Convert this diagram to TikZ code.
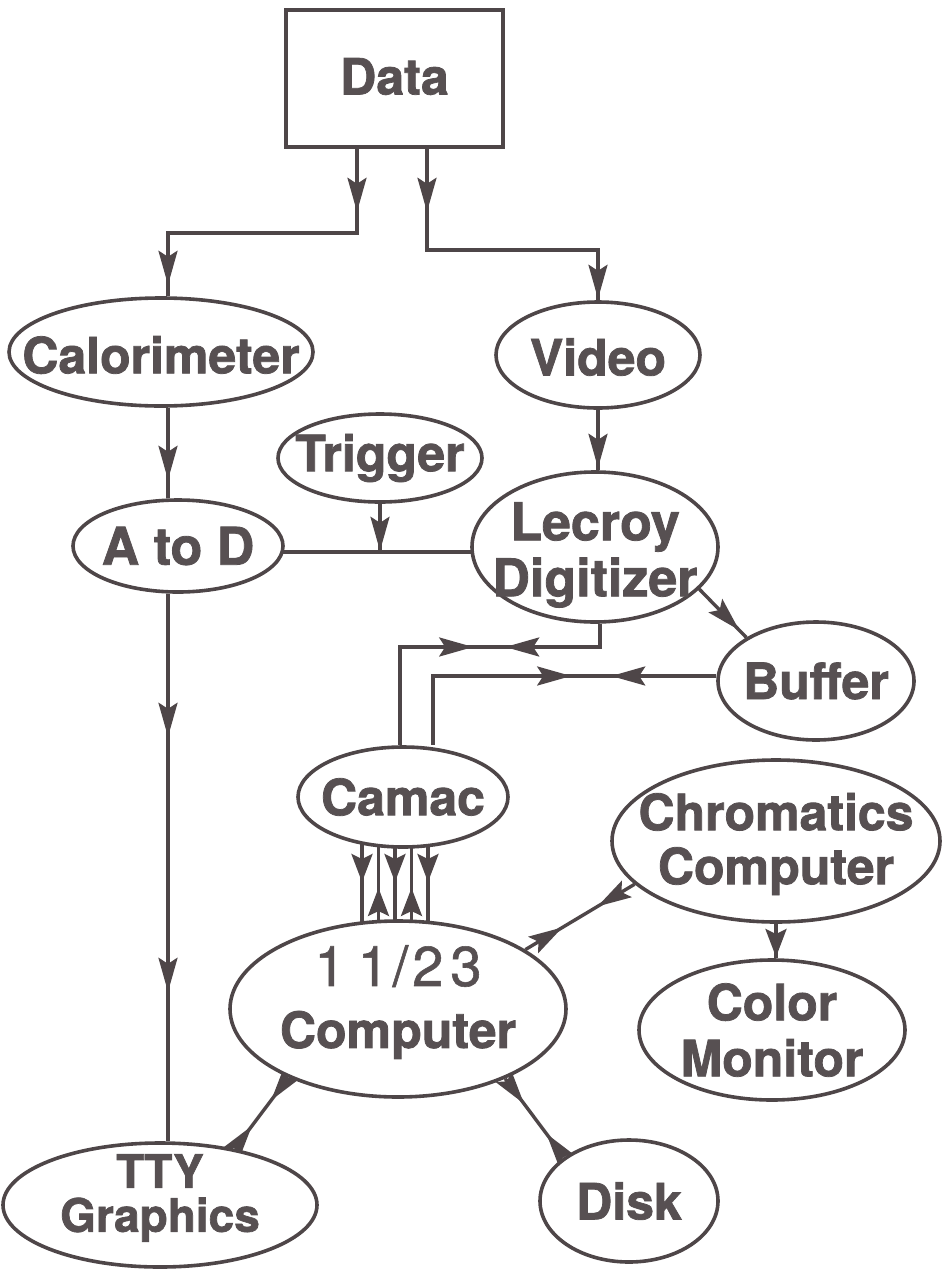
\documentclass[tikz,border=0pt]{standalone}
\usepackage{fontspec}
\setmainfont{TeX Gyre Heros}[BoldFeatures={FakeBold=1.5}]
\usetikzlibrary{shapes.geometric,arrows.meta,decorations.markings,backgrounds}
\definecolor{lc}{HTML}{4E4648}
\definecolor{tc}{HTML}{575052}
\tikzset{
  tipA/.tip={Stealth[length=34pt,width=19pt,inset=6pt]},
  tipB/.tip={Stealth[length=28pt,width=21pt,inset=5pt]},
  lbl/.style={font=\fontsize{50}{54}\selectfont\bfseries, text=tc, align=center, inner sep=0pt},
  ell/.style={ellipse, draw=lc, line width=3.6pt, fill=white, inner sep=0pt},
  conn/.style={draw=lc, color=lc, line width=3.4pt},
  fa/.style={postaction={decorate,decoration={markings,mark=at position #1 with {\arrow{tipA}}}}},
  ra/.style={postaction={decorate,decoration={markings,mark=at position #1 with {\arrowreversed{tipA}}}}},
  fb/.style={postaction={decorate,decoration={markings,mark=at position #1 with {\arrow{tipB}}}}},
  rb/.style={postaction={decorate,decoration={markings,mark=at position #1 with {\arrowreversed{tipB}}}}},
}
\begin{document}
\begin{tikzpicture}[x=1pt,y=-1pt]
\useasboundingbox (0,0) rectangle (942,1269);

\node[draw=lc, line width=3.6pt, fill=white, minimum width=217pt, minimum height=137pt,
      label={[lbl,yshift=2pt]center:Data}] (data) at (394.5,78.5) {};
\node[ell, minimum width=304pt, minimum height=108pt, label={[lbl,yshift=-3pt]center:Calorimeter}] (cal) at (161,352) {};
\node[ell, minimum width=204pt, minimum height=106pt, label={[lbl,yshift=-2pt]center:Video}] (video) at (598,355) {};
\node[ell, minimum width=204pt, minimum height=88pt, label={[lbl]center:Trigger}] (trigger) at (380,458) {};
\node[ell, minimum width=210pt, minimum height=92pt, label={[lbl,font=\fontsize{52}{54}\selectfont\bfseries]center:A to D}] (atod) at (178,546) {};
\node[ell, minimum width=246pt, minimum height=150pt, label={[lbl,yshift=-8pt,font=\fontsize{52}{56}\selectfont\bfseries]center:Lecroy\\Digitizer}] (lecroy) at (595,547) {};
\node[ell, minimum width=196pt, minimum height=118pt, label={[lbl]center:Buffer}] (buffer) at (816,681) {};
\node[ell, minimum width=210pt, minimum height=100pt, label={[lbl]center:Camac}] (camac) at (403,797) {};
\node[ell, minimum width=328pt, minimum height=162pt, label={[lbl,yshift=-3pt]center:Chromatics\\Computer}] (chrom) at (776,841) {};
\node[ell, minimum width=336pt, minimum height=176pt,
      label={[lbl,yshift=7pt,font=\fontsize{50}{62}\selectfont\bfseries]center:{\mdseries\fontsize{56}{62}\selectfont\addfontfeature{FakeBold=1}1\kern12pt1\kern4pt/\kern4pt2\kern7pt3}\\Computer}] (n1123) at (398,1009) {};
\node[ell, minimum width=266pt, minimum height=140pt, label={[lbl,font=\fontsize{50}{56}\selectfont\bfseries]center:Color\\Monitor}] (monitor) at (772,1030) {};
\node[ell, minimum width=314pt, minimum height=124pt, label={[lbl,yshift=7pt,font=\fontsize{46}{44}\selectfont\bfseries]center:TTY\\Graphics}] (tty) at (160,1205) {};
\node[ell, minimum width=178pt, minimum height=122pt, label={[lbl]center:Disk}] (disk) at (629,1201) {};

\coordinate (b1) at (168,233);
\coordinate (b2) at (598,250);
\coordinate (jn) at (380,552);
\coordinate (b9) at (400,647);
\coordinate (b10) at (433,676);

\begin{scope}[on background layer]
\draw[conn, fa=63pt, fa=325pt] ([xshift=-37.5pt]data.south) |- (b1) -- (b1 |- cal.north);
\draw[conn, fa=63pt, fa=321pt] ([xshift=32.5pt]data.south) |- (b2) -- (b2 |- video.north);
\draw[conn, fa=72pt] (cal.south -| b1) -- (atod.north -| b1);
\draw[conn, fa=143pt, fa=398pt] (atod.south -| b1) -- (tty.north -| b1);
\draw[conn, fa=58pt] (video.south) -- (video.south |- lecroy.north);
\draw[conn, fa=47pt] (trigger.south) -- (jn);
\draw[conn] (atod.center |- jn) -- (lecroy.center |- jn);
\draw[conn, fa=0.85] (lecroy.338) -- (buffer.148);
\draw[conn, fa=118pt, ra=150pt] ([xshift=5pt]lecroy.south) |- (b9) -- (b9 |- camac.north);
\draw[conn, fa=105pt, ra=145pt] (b10 -| buffer.west) -- (b10) -- (b10 |- camac.north);
\foreach \x in {362,395,428}{
  \coordinate (t) at (\x,0);
  \draw[conn, fb=85pt] (camac.center -| t) -- (n1123.center -| t);
}
\foreach \x in {378.5,411.5}{
  \coordinate (t) at (\x,0);
  \draw[conn, rb=91pt] (camac.center -| t) -- (n1123.center -| t);
}
\draw[conn, fa=0.34, ra=0.66] (n1123.25) -- (chrom.197);
\draw[conn, fb=116pt] (chrom.center) -- (chrom.center |- monitor.north);
\draw[conn, fa=0.32, ra=0.68] (n1123.212) -- (tty.37);
\draw[conn, fa=0.32, ra=0.70] (n1123.327) -- (disk.146);
\end{scope}
\end{tikzpicture}
\end{document}
